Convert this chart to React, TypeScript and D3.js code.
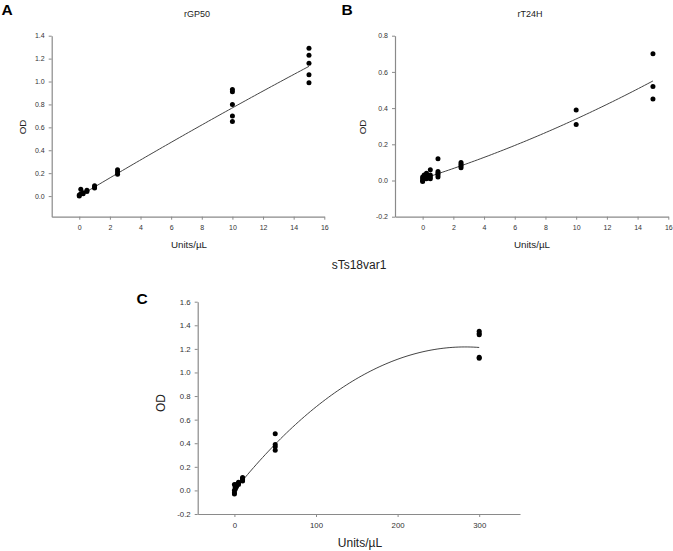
import React, { useEffect, useRef } from 'react';
import * as d3 from 'd3';

const gp50X = [0, 0, 0.1, 0.1, 0.25, 0.25, 0.5, 0.5, 1, 1, 1, 2.5, 2.5, 2.5, 10, 10, 10, 10, 10, 15, 15, 15, 15, 15];
const gp50Y = [0.0, 0.01, 0.06, 0.02, 0.03, 0.02, 0.05, 0.04, 0.09, 0.08, 0.07, 0.23, 0.21, 0.19, 0.93, 0.91, 0.8, 0.7, 0.65, 1.29, 1.23, 1.16, 1.06, 0.99];

const t24X = [0, 0, 0, 0, 0.1, 0.1, 0.1, 0.25, 0.25, 0.25, 0.25, 0.5, 0.5, 0.5, 0.5, 1, 1, 1, 1, 1, 2.5, 2.5, 2.5, 2.5, 10, 10, 15, 15, 15];
const t24Y = [0.02, 0.01, 0.0, -0.005, 0.03, 0.02, 0.01, 0.04, 0.03, 0.02, 0.01, 0.06, 0.03, 0.02, 0.01, 0.12, 0.05, 0.04, 0.03, 0.02, 0.1, 0.09, 0.08, 0.07, 0.39, 0.31, 0.7, 0.52, 0.45];

const ts18X = [0, 0, 0, 0, 1, 1, 1, 2.5, 2.5, 2.5, 5, 5, 5, 10, 10, 10, 10, 50, 50, 50, 50, 300, 300, 300, 300, 300];
const ts18Y = [0.05, 0.0, -0.02, -0.03, 0.03, 0.02, 0.01, 0.05, 0.04, 0.03, 0.07, 0.06, 0.05, 0.11, 0.1, 0.09, 0.08, 0.48, 0.39, 0.37, 0.34, 1.35, 1.33, 1.32, 1.13, 1.12];

// quadratic fit coefficients [a, b, c] for y = a + b x + c x^2, and the fitted x range
const gp50Fit = [0.0, 0.08, -0.0003];
const t24Fit = [0.01, 0.027, 0.0006];
const ts18Fit = [0.0, 0.0086, -0.0000152];
const gp50FitRange = [0, 15];
const t24FitRange = [0, 15];
const ts18FitRange = [5, 300];

const gp50XTicks = [0, 2, 4, 6, 8, 10, 12, 14, 16];
const gp50YTicks = [0, 0.2, 0.4, 0.6, 0.8, 1.0, 1.2, 1.4];
const t24XTicks = [0, 2, 4, 6, 8, 10, 12, 14, 16];
const t24YTicks = [-0.2, 0, 0.2, 0.4, 0.6, 0.8];
const ts18XTicks = [0, 100, 200, 300];
const ts18YTicks = [-0.2, 0, 0.2, 0.4, 0.6, 0.8, 1.0, 1.2, 1.4, 1.6];

const FONT = 'Liberation Sans, Arial, sans-serif';

interface PanelSpec {
  letter: string;
  letterPos: [number, number];
  title: string;
  titlePos: [number, number];
  xLabelPos: [number, number];
  yLabelPos: [number, number];
  labelSize: number;
  titleSize: number;
  tickSize: number;
  xDomain: [number, number];
  yDomain: [number, number];
  xRange: [number, number];
  yRange: [number, number];
  xTicks: number[];
  yTicks: number[];
  xs: number[];
  ys: number[];
  fit: number[];
  fitRange: number[];
}

const panels: PanelSpec[] = [
  {
    letter: 'A', letterPos: [1.5, 14.5], title: 'rGP50', titlePos: [197, 16.5],
    xLabelPos: [189, 247.5], yLabelPos: [25.5, 127], labelSize: 9.8, titleSize: 9, tickSize: 7,
    xDomain: [-1.8, 16], yDomain: [-0.18, 1.4], xRange: [51.7, 324.3], yRange: [216.7, 35.7],
    xTicks: gp50XTicks, yTicks: gp50YTicks, xs: gp50X, ys: gp50Y, fit: gp50Fit, fitRange: gp50FitRange,
  },
  {
    letter: 'B', letterPos: [341.5, 14.5], title: 'rT24H', titlePos: [530, 16.5],
    xLabelPos: [532, 247.5], yLabelPos: [365.5, 127], labelSize: 9.8, titleSize: 9, tickSize: 7,
    xDomain: [-1.8, 16], yDomain: [-0.2, 0.8], xRange: [395, 668.3], yRange: [216.7, 35.7],
    xTicks: t24XTicks, yTicks: t24YTicks, xs: t24X, ys: t24Y, fit: t24Fit, fitRange: t24FitRange,
  },
  {
    letter: 'C', letterPos: [136.5, 304], title: 'sTs18var1', titlePos: [359, 269],
    xLabelPos: [360, 546.5], yLabelPos: [164.5, 403], labelSize: 12, titleSize: 12, tickSize: 7.8,
    xDomain: [-45, 350], yDomain: [-0.2, 1.6], xRange: [197.7, 520], yRange: [514, 301.7],
    xTicks: ts18XTicks, yTicks: ts18YTicks, xs: ts18X, ys: ts18Y, fit: ts18Fit, fitRange: ts18FitRange,
  },
];

const fmt = (v: number) => (Math.abs(v) < 1e-9 ? '0.0' : v.toFixed(1));

export default function App() {
  const svgRef = useRef<SVGSVGElement>(null);

  useEffect(() => {
    document.body.style.margin = '0';
    if (!svgRef.current) return;
    const svg = d3.select(svgRef.current);
    svg.selectAll('*').remove();

    panels.forEach(p => {
      const g = svg.append('g');
      const x = d3.scaleLinear().domain(p.xDomain).range(p.xRange);
      const y = d3.scaleLinear().domain(p.yDomain).range(p.yRange);

      // axes
      const xAxis = g.append('g')
        .attr('transform', `translate(0,${p.yRange[0]})`)
        .call(d3.axisBottom(x).tickValues(p.xTicks).tickSize(3).tickPadding(5).tickSizeOuter(0).tickFormat((d: any) => String(d)));
      const yAxis = g.append('g')
        .attr('transform', `translate(${p.xRange[0]},0)`)
        .call(d3.axisLeft(y).tickValues(p.yTicks).tickSize(3).tickPadding(4).tickSizeOuter(0).tickFormat(fmt as any));
      [xAxis, yAxis].forEach(ax => {
        ax.select('.domain').attr('stroke', '#8a8a8a').attr('stroke-width', 1.2);
        ax.selectAll('.tick line').attr('stroke', '#8a8a8a');
        ax.selectAll('.tick text').attr('fill', '#333').attr('font-size', p.tickSize).attr('font-family', FONT);
      });

      // fitted curve
      const [a, b, c] = p.fit;
      const n = 80;
      const pts = d3.range(n + 1).map(i => {
        const xv = p.fitRange[0] + (p.fitRange[1] - p.fitRange[0]) * i / n;
        return [xv, a + b * xv + c * xv * xv] as [number, number];
      });
      g.append('path')
        .attr('d', d3.line<[number, number]>().x(d => x(d[0])).y(d => y(d[1]))(pts))
        .attr('fill', 'none')
        .attr('stroke', '#444')
        .attr('stroke-width', 1);

      // points
      g.selectAll('circle.pt')
        .data(p.xs.map((xv, i) => [xv, p.ys[i]]))
        .join('circle')
        .attr('class', 'pt')
        .attr('cx', d => x(d[0]))
        .attr('cy', d => y(d[1]))
        .attr('r', 2.5)
        .attr('fill', '#000');

      // texts
      g.append('text')
        .attr('x', p.letterPos[0]).attr('y', p.letterPos[1])
        .attr('font-family', FONT).attr('font-weight', 'bold').attr('font-size', 15.5)
        .text(p.letter);
      g.append('text')
        .attr('x', p.titlePos[0]).attr('y', p.titlePos[1])
        .attr('text-anchor', 'middle')
        .attr('font-family', FONT).attr('font-size', p.titleSize).attr('fill', '#222')
        .text(p.title);
      g.append('text')
        .attr('x', p.xLabelPos[0]).attr('y', p.xLabelPos[1])
        .attr('text-anchor', 'middle')
        .attr('font-family', FONT).attr('font-size', p.labelSize).attr('fill', '#222')
        .text('Units/µL');
      g.append('text')
        .attr('transform', `translate(${p.yLabelPos[0]},${p.yLabelPos[1]}) rotate(-90)`)
        .attr('text-anchor', 'middle')
        .attr('font-family', FONT).attr('font-size', p.labelSize).attr('fill', '#222')
        .text('OD');
    });
  }, []);

  return <svg ref={svgRef} width={673} height={551} style={{ display: 'block', background: '#fff' }} />;
}
